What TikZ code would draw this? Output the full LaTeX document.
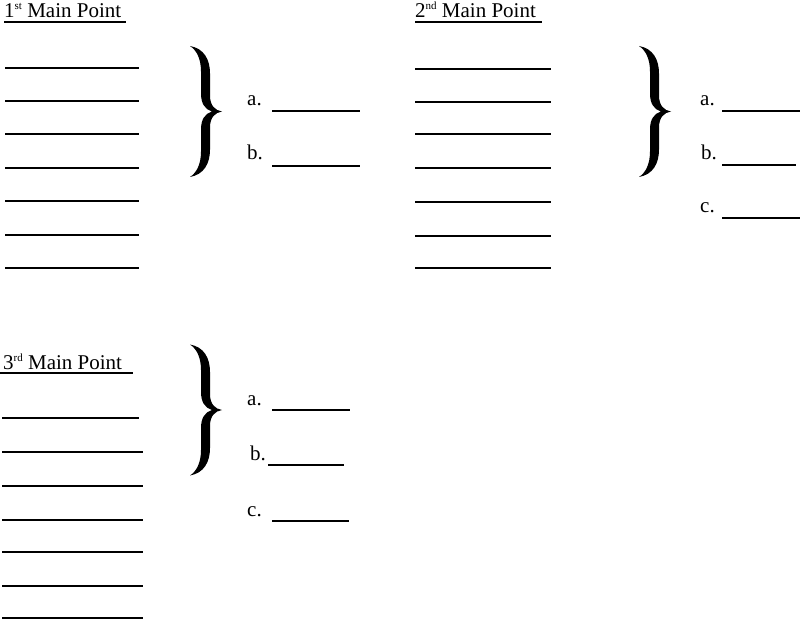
\documentclass[tikz,border=0pt]{standalone}
\usepackage{fontspec}
\setmainfont{Liberation Serif}
\newcommand{\ordsup}[1]{\raisebox{8pt}{\fontsize{11}{11}\selectfont #1}}
\begin{document}
\begin{tikzpicture}[x=1pt,y=-1pt,
    blank/.style={line width=2pt},
    underline/.style={line width=1.6pt},
    title/.style={anchor=base west,inner sep=0pt,font=\fontsize{21}{25}\selectfont},
    item/.style={anchor=base west,inner sep=0pt,font=\fontsize{21}{25}\selectfont},
    bigbrace/.pic={
      \fill (-16,-65.5) .. controls (-2,-63) and (4,-52) .. (4,-38)
        -- (4,-16) .. controls (4,-6) and (9,-1) .. (16,0)
        .. controls (9,1) and (4,6) .. (4,16)
        -- (4,38) .. controls (4,52) and (-2,63) .. (-16,65.5)
        .. controls (-9,61) and (-5,52) .. (-5,40)
        -- (-5,18) .. controls (-5,8) and (-1,2) .. (6,0)
        .. controls (-1,-2) and (-5,-8) .. (-5,-18)
        -- (-5,-40) .. controls (-5,-52) and (-9,-61) .. cycle;
    }]
  \useasboundingbox (0,0) rectangle (800,620);

  % 1st main point
  \node[title] (title1) at (4,18) {1\ordsup{st} Main Point};
  \draw[underline] (4,22) -- (126,22);
  \foreach \y in {68,101,134,168,201,235,268}
    \draw[blank] (5,\y) -- (139,\y);
  \pic (brace1) at (206,111.5) {bigbrace};
  \node[item] (a1) at (247,106) {a.};
  \draw[blank] (272,111) -- (360,111);
  \node[item] (b1) at (247,160) {b.};
  \draw[blank] (272,166) -- (360,166);

  % 2nd main point
  \node[title] (title2) at (415,18) {2\ordsup{nd} Main Point};
  \draw[underline] (415,22) -- (542,22);
  \foreach \y in {69,102,134,168,202,236,268}
    \draw[blank] (415,\y) -- (551,\y);
  \pic (brace2) at (655,111.5) {bigbrace};
  \node[item] (a2) at (700,106) {a.};
  \draw[blank] (722,111) -- (800,111);
  \node[item] (b2) at (701,160) {b.};
  \draw[blank] (722,165) -- (796,165);
  \node[item] (c2) at (700,213) {c.};
  \draw[blank] (722,218) -- (800,218);

  % 3rd main point
  \node[title] (title3) at (3,369) {3\ordsup{rd} Main Point};
  \draw[underline] (0,373) -- (133,373);
  \draw[blank] (2,418) -- (139,418);
  \foreach \y in {452,486,520,552,586,618}
    \draw[blank] (2,\y) -- (143,\y);
  \pic (brace3) at (206,410) {bigbrace};
  \node[item] (a3) at (247,405) {a.};
  \draw[blank] (272,410) -- (350,410);
  \node[item] (b3) at (250,460) {b.};
  \draw[blank] (268,465) -- (344,465);
  \node[item] (c3) at (247,516) {c.};
  \draw[blank] (272,521) -- (349,521);
\end{tikzpicture}
\end{document}
